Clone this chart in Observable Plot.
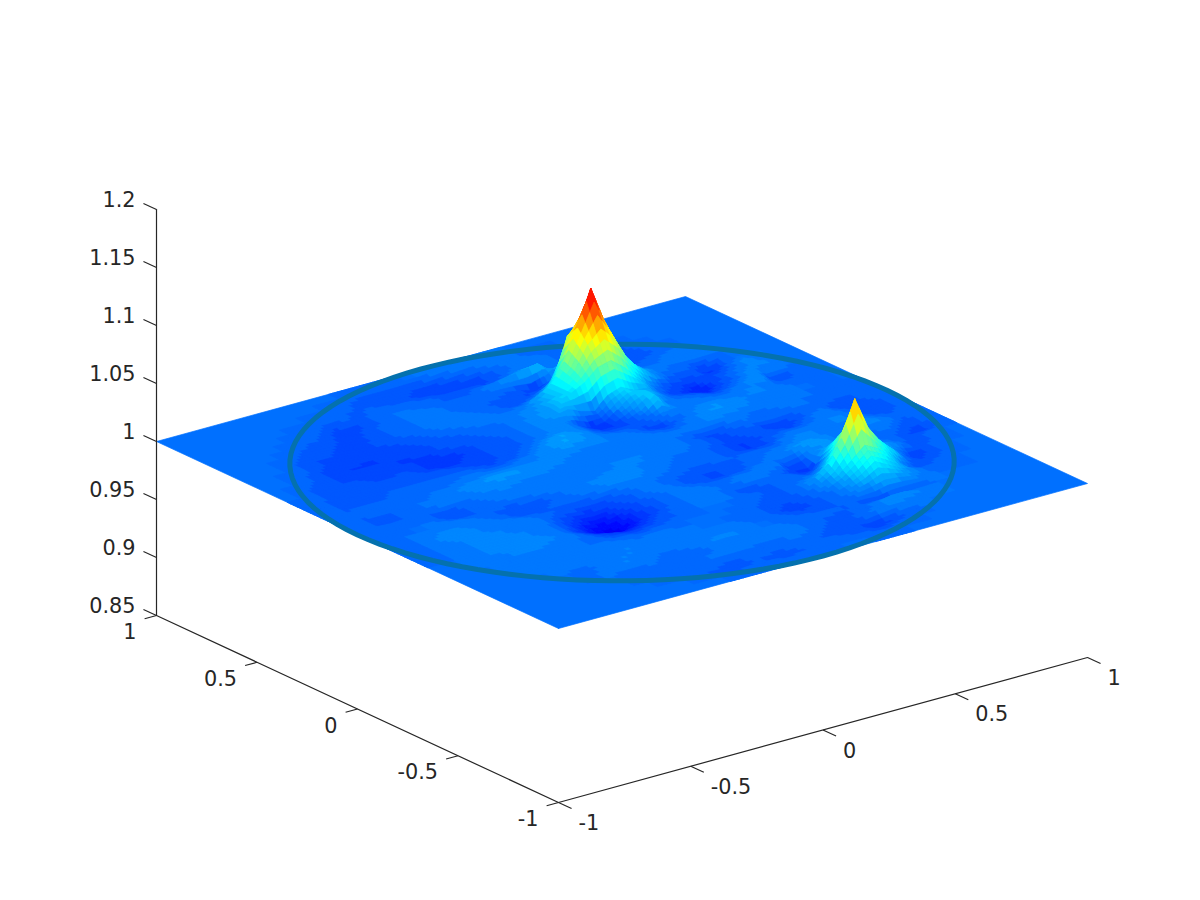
<!DOCTYPE html>
<html><head><meta charset="utf-8">
<script src="https://cdn.jsdelivr.net/npm/d3@7"></script>
<script src="https://cdn.jsdelivr.net/npm/@observablehq/plot@0.6"></script>
<style>html,body{margin:0;padding:0;background:#fff}svg{display:block}</style>
</head><body><div id="chart"></div>
<script>
const xTicks = [-1, -0.5, 0, 0.5, 1];
const yTicks = [-1, -0.5, 0, 0.5, 1];
const zTicks = [0.85, 0.9, 0.95, 1, 1.05, 1.1, 1.15, 1.2];
const zTickLabels = ["0.85", "0.9", "0.95", "1", "1.05", "1.1", "1.15", "1.2"];
const xyTickLabels = ["-1", "-0.5", "0", "0.5", "1"];
const plateCorners = [[-1, -1], [1, -1], [1, 1], [-1, 1], [-1, -1]];
const jetStops = [0, 0.125, 0.375, 0.625, 0.875, 1];
const jetColors = ["#00008f", "#0000ff", "#00ffff", "#ffff00", "#ff0000", "#800000"];
const colorLow = 0.971, colorHigh = 1.0947, colorLevels = 64;
const circleColor = "#0471ae", axisColor = "#262626";
const gridStep = 0.05;

// surface height above 1, in thousandths; rows run from y=0.95 down to y=-0.95,
// each row is [first column index, values...] with column 0 at x=-1
const surfaceRows = [
[14,-1,-1,-1,-1,0,0,1,2,2,2,2,1,0],
[12,-1,-2,-3,-3,-3,-3,-4,-4,-3,-2,-1,0,1,1,0,-1,-1],
[10,-1,-1,-2,-2,-2,-3,-3,-4,-5,-6,-6,-6,-5,-3,-1,1,2,1,-1,-2,-1],
[8,-1,-1,-3,-2,-2,-2,-1,-1,-1,-2,-2,-3,-3,-3,-4,-2,1,1,2,1,-2,-3,-3,-2,-1],
[7,-1,-1,-3,-5,-5,-4,-1,0,0,-1,-1,-2,-2,-2,1,3,5,7,9,0,3,-1,-3,-4,-4,-3,-1],
[6,-1,-2,-3,-4,-4,-4,-2,-1,0,1,1,0,-1,-1,-1,-1,-2,-4,-7,-3,10,6,3,0,-3,-4,-3,-2,-1],
[5,-1,-3,-3,-4,-4,-5,-3,-2,-1,0,1,1,0,-1,-2,-2,-3,-4,-4,-2,5,24,15,6,2,-1,-2,-1,0,1,0],
[4,-1,-3,-4,-4,-4,-4,-4,-3,-2,-1,0,1,2,1,0,-1,-2,-3,-2,2,12,45,56,45,24,10,1,0,0,1,2,1,0],
[4,-1,-3,-4,-4,-5,-5,-5,-5,-4,-3,-1,0,1,1,1,0,0,1,6,14,30,56,87,56,30,13,5,1,0,-1,-2,-1,0],
[3,-1,-2,-4,-5,-6,-6,-6,-5,-5,-4,-4,-3,-2,-1,0,0,1,2,4,8,14,26,45,56,45,24,12,4,-1,-3,-3,-7,-4,0,0],
[3,-1,-3,-4,-5,-5,-5,-5,-6,-6,-6,-4,-3,-3,-2,-1,-1,1,3,5,10,14,20,30,33,24,12,2,-3,-5,-6,-4,-4,-1,3,1],
[2,-1,-3,-3,-4,-4,-5,-5,-5,-5,-6,-7,-7,-6,-4,-3,-2,-1,1,3,5,7,3,0,10,14,8,7,-1,-5,-7,-11,-6,-2,1,3,2,0],
[2,-1,-3,-3,-3,-3,-4,-4,-3,-5,-6,-7,-6,-5,-4,-3,-3,-1,1,3,3,-3,-8,-6,2,10,12,5,-1,-2,-3,-6,-4,-1,4,1,1,0],
[1,-1,-2,-2,-3,-3,-3,-3,-3,-3,-3,-3,-4,-5,-5,-4,-3,-2,0,2,3,2,-2,-6,-6,-3,2,12,1,1,0,-1,-2,0,3,4,-4,-3,-1,0],
[1,-1,-2,-3,-3,-3,-2,-2,-2,-2,-2,-2,-2,-3,-4,-3,-2,0,4,6,5,3,-1,-3,-3,-4,-2,2,2,1,1,1,1,2,2,0,-1,-1,-1,0],
[1,-1,-2,-2,-2,-2,-1,-1,-1,-1,-1,0,0,-1,-1,0,1,3,5,6,4,3,1,0,-1,-4,-5,-2,1,3,4,3,2,2,2,1,0,0,-1,0],
[1,-1,-2,-1,-1,-1,-1,-1,0,0,1,1,2,2,2,2,2,3,3,2,2,2,1,1,0,-1,-2,0,2,4,4,3,2,1,1,1,0,0,-1,0],
[1,-1,-2,-2,-2,-1,0,0,1,2,3,4,5,5,4,3,3,2,1,1,1,1,0,0,1,1,1,1,2,2,1,0,0,1,1,0,0,-1,-1,-1],
[1,-1,-2,-3,-2,-1,0,1,1,1,2,3,3,2,2,2,1,1,0,0,0,1,1,1,1,0,-2,-4,-4,-2,0,-1,-1,-1,0,0,-1,-2,-2,-1],
[1,-1,-1,-1,-1,0,-3,-4,-2,-1,1,1,1,1,1,0,0,1,1,2,2,2,2,1,1,0,-1,-3,-5,-3,-3,-5,-6,-4,-1,0,-3,-3,-2,-1],
[1,-1,-1,0,0,0,-2,-3,-2,-1,-1,0,0,1,1,1,1,1,2,2,2,2,1,0,0,-1,-2,-4,-6,-5,-3,-3,-4,-2,1,1,-1,-3,-4,-2],
[1,-1,0,0,0,1,1,0,-1,-2,-3,-4,-3,-2,0,1,2,3,3,3,2,1,0,-1,-1,-1,-3,-4,-6,-5,-2,0,0,1,2,2,0,-3,-4,-2],
[1,-1,0,1,2,2,1,1,0,-1,-3,-3,-2,-1,-1,0,1,2,2,2,1,0,-1,-2,-2,-1,-2,-2,-2,-2,1,2,2,1,2,2,1,-1,-2,-1],
[1,-1,0,2,3,3,2,1,1,1,0,-1,-2,-3,-4,-4,-3,-2,0,1,-1,-2,-3,-4,-4,-3,-2,-1,0,1,2,3,2,1,1,2,3,1,-2,-1],
[1,-1,0,1,2,2,2,2,1,1,1,-2,-5,-7,-8,-7,-5,-3,0,1,0,-2,-3,-4,-4,-3,-1,0,1,3,6,5,3,1,0,0,1,-1,-4,-1],
[1,-1,0,1,2,2,2,2,2,1,0,-3,-7,-11,-13,-11,-7,-4,-2,0,1,0,-1,-1,0,0,2,2,-5,-3,3,4,4,2,0,-1,-2,-4,-5,-2],
[2,0,1,2,2,2,2,2,1,0,-4,-8,-13,-17,-13,-8,-5,-2,0,1,1,0,0,1,1,0,-3,-6,-8,8,10,6,4,2,0,-2,-3,-1],
[2,0,1,2,2,3,3,3,2,1,-2,-5,-7,-9,-8,-5,-3,-1,0,1,1,-1,-3,-3,-2,-1,-1,-4,2,20,16,11,8,5,1,-3,-2,-1],
[3,0,1,2,2,2,1,0,0,-1,-3,-4,-5,-4,-3,-2,-1,0,0,0,0,-1,-2,-2,-1,0,2,15,34,36,24,11,2,-6,-4,-1],
[3,0,1,1,1,1,1,1,0,0,-1,-1,-2,-1,-1,0,0,0,0,0,-1,-2,-3,-2,0,5,14,33,64,36,20,10,-2,-4,-3,-1],
[4,0,1,1,1,1,2,1,1,1,0,1,1,0,0,0,0,0,-1,-2,-3,-4,-3,-1,2,8,18,28,22,12,0,-3,-2,-1],
[4,0,0,1,2,1,0,1,2,2,2,1,1,1,0,0,0,-1,-1,-2,-4,-5,-4,-2,0,4,10,18,12,6,2,-1,-1,-1],
[5,0,0,-1,0,1,2,2,1,1,1,0,0,0,1,1,0,0,-1,-2,-3,-3,-2,-1,1,3,6,5,3,1,0,0],
[6,0,-1,1,2,2,1,0,-1,0,1,2,3,2,1,0,0,-1,-1,-1,-1,-2,-2,-3,-5,-3,-2,-1,0,0],
[7,0,0,-1,-1,0,-1,-2,-1,-1,1,1,1,2,2,1,0,0,-2,-3,-2,-1,2,4,4,2,1,0],
[8,0,-1,-2,-2,-2,-1,0,1,1,1,0,0,0,1,0,-2,-3,-3,-1,1,2,2,1,0,0],
[10,-1,-1,-1,-1,-1,-2,-2,-1,-1,-1,0,-1,-2,-3,-3,-3,-6,-5,-3,-1,0],
[12,-1,-2,-3,-3,-2,-2,-3,-3,-2,-1,-1,-1,-2,-2,-3,-2,-1],
[14,-1,-1,-1,-1,-1,-1,-1,-1,0,0,0,-1,-1]
];

// view of the 3D box: data (x, y, z) to picture coordinates
const px = (x, y) => 621.5 + 264.5 * x - 201 * y;
const py = (x, y, z) => 636 - 72.5 * x - 93.5 * y - 1160 * (z - 0.85);

// full height table, indexed [j][i], j=0 at y=-1, i=0 at x=-1
const N = 40;
const H = d3.range(N + 1).map(() => new Array(N + 1).fill(0));
surfaceRows.forEach((row, r) => {
  const j = 39 - r;
  row.slice(1).forEach((v, k) => { H[j][row[0] + k] = v; });
});

// the surface colours come from a colormap of a fixed number of levels
const span = colorHigh - colorLow;
const level = (z) => colorLow + (Math.min(colorLevels - 1, Math.max(0, Math.floor((z - colorLow) / span * colorLevels))) + 0.5) / colorLevels * span;

// faces, back to front; each grid cell is shaded in three steps per side
const SUB = 3;
const faces = [];
let faceId = 0;
for (let j = N - 1; j >= 0; j--) for (let i = N - 1; i >= 0; i--) {
  const a = H[j][i], b = H[j][i + 1], c = H[j + 1][i], d = H[j + 1][i + 1];
  if (a === 0 && b === 0 && c === 0 && d === 0) continue;
  const at = (s, t) => (a * (1 - s) * (1 - t) + b * s * (1 - t) + c * (1 - s) * t + d * s * t);
  for (let q = SUB - 1; q >= 0; q--) for (let p = SUB - 1; p >= 0; p--) {
    const corners = [[p, q], [p + 1, q], [p + 1, q + 1], [p, q + 1], [p, q]].map(([m, n]) => {
      const s = m / SUB, t = n / SUB;
      return {x: -1 + (i + s) * gridStep, y: -1 + (j + t) * gridStep, z: 1 + at(s, t) / 1000};
    });
    const mean = d3.mean(corners.slice(0, 4), (v) => v.z);
    const id = faceId++;
    const yMid = corners[0].y;
    for (const v of corners) faces.push({id, u: px(v.x, v.y), v: py(v.x, v.y, v.z), c: level(mean), h: mean, y: yMid});
  }
}
// faces of the rises that stand in front of the far side of the circle
const frontFaces = faces.filter((f) => f.h > 1.003 && f.y > 0.2);

const plate = plateCorners.map(([x, y]) => ({u: px(x, y), v: py(x, y, 1), c: 1}));
const circle = d3.range(0, 361, 3).map((a) => {
  const x = Math.cos(a * Math.PI / 180), y = Math.sin(a * Math.PI / 180);
  return {u: px(x, y), v: py(x, y, 1)};
});

// axes
const pt = (x, y, z) => ({u: px(x, y), v: py(x, y, z)});
const xAxis = [pt(-1, -1, 0.85), pt(1, -1, 0.85)];
const yAxis = [pt(-1, -1, 0.85), pt(-1, 1, 0.85)];
const zAxis = [pt(-1, 1, 0.85), pt(-1, 1, 1.2)];
const tickLines = [
  ...xTicks.map((x, k) => [pt(x, -1, 0.85), pt(x, -1.065, 0.85), "x" + k]),
  ...yTicks.map((y, k) => [pt(-1, y, 0.85), pt(-1.045, y, 0.85), "y" + k]),
  ...zTicks.map((z, k) => [pt(-1, 1, z), pt(-1, 1.065, z), "z" + k])
].map(([a, b, id]) => ({u1: a.u, v1: a.v, u2: b.u, v2: b.v, id}));

const textOpts = {fontFamily: "DejaVu Sans", fontSize: 20.8, fill: axisColor, lineAnchor: "middle"};
const xLabels = xTicks.map((x, k) => ({...pt(x, -1, 0.85), t: xyTickLabels[k]}));
const yLabels = yTicks.map((y, k) => ({...pt(-1, y, 0.85), t: xyTickLabels[k]}));
const zLabels = zTicks.map((z, k) => ({...pt(-1, 1, z), t: zTickLabels[k]}));

const faceMark = (data) => Plot.line(data, {
  x: "u", y: "v", z: "id", fill: "c", stroke: "c", strokeWidth: 0.7, strokeLinejoin: "round"
});

const chart = Plot.plot({
  width: 1200, height: 900,
  marginTop: 0, marginRight: 0, marginBottom: 0, marginLeft: 0,
  x: {domain: [0, 1200], range: [0, 1200], axis: null},
  y: {domain: [0, 900], range: [0, 900], axis: null},
  color: {
    type: "linear",
    domain: jetStops.map((t) => colorLow + t * span),
    range: jetColors,
    clamp: true
  },
  style: {background: "#fff"},
  marks: [
    Plot.line(plate, {x: "u", y: "v", fill: "c", stroke: "c", strokeWidth: 0.7}),
    faceMark(faces),
    Plot.line(circle, {x: "u", y: "v", stroke: circleColor, strokeWidth: 5}),
    faceMark(frontFaces),
    Plot.line(xAxis, {x: "u", y: "v", stroke: axisColor, strokeWidth: 1.2}),
    Plot.line(yAxis, {x: "u", y: "v", stroke: axisColor, strokeWidth: 1.2}),
    Plot.line(zAxis, {x: "u", y: "v", stroke: axisColor, strokeWidth: 1.2}),
    Plot.link(tickLines, {x1: "u1", y1: "v1", x2: "u2", y2: "v2", stroke: axisColor, strokeWidth: 1.2}),
    Plot.text(xLabels, {x: "u", y: "v", text: "t", dx: 20, dy: 21, textAnchor: "start", ...textOpts}),
    Plot.text(yLabels, {x: "u", y: "v", text: "t", dx: -20, dy: 17, textAnchor: "end", ...textOpts}),
    Plot.text(zLabels, {x: "u", y: "v", text: "t", dx: -21, dy: -9, textAnchor: "end", ...textOpts})
  ]
});
document.getElementById("chart").append(chart);
</script>
</body></html>
